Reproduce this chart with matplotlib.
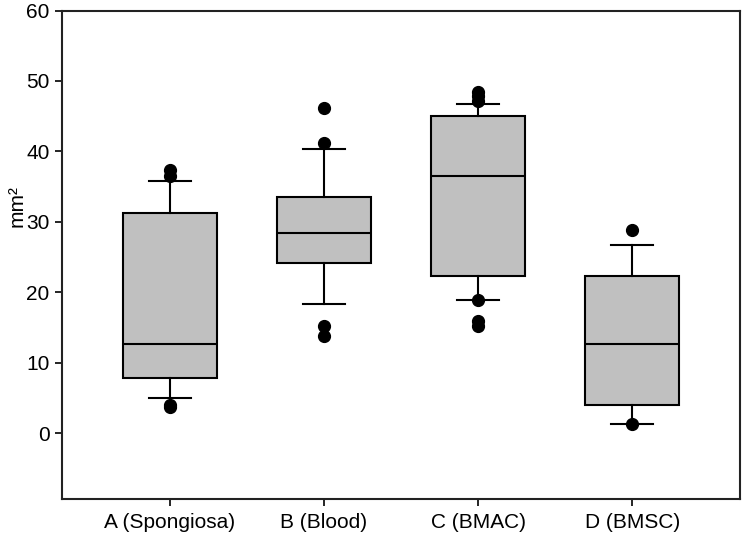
import matplotlib
matplotlib.use("Agg")
import matplotlib.pyplot as plt

plt.rcParams['font.family'] = ['Liberation Sans', 'DejaVu Sans']

categories = ["A (Spongiosa)", "B (Blood)", "C (BMAC)", "D (BMSC)"]
q1 = [7.8, 24.2, 22.4, 4.0]
medians = [12.7, 28.4, 36.5, 12.7]
q3 = [31.3, 33.6, 45.0, 22.4]
whislo = [5.0, 18.4, 18.9, 1.3]
whishi = [35.8, 40.3, 46.7, 26.7]
outliers = [
    [37.4, 36.5, 4.0, 3.7],
    [46.1, 41.2, 15.2, 13.8],
    [48.4, 47.9, 47.1, 19.0, 16.0, 15.2],
    [28.9, 1.4],
]
yticks = [0, 10, 20, 30, 40, 50, 60]

stats = []
for i, c in enumerate(categories):
    stats.append(dict(label=c, q1=q1[i], med=medians[i], q3=q3[i],
                      whislo=whislo[i], whishi=whishi[i], fliers=outliers[i]))

fig = plt.figure(figsize=(7.45, 5.37), dpi=100)
ax = fig.add_axes([62/745, 1-499/537, (740-62)/745, (499-10.5)/537])

ax.bxp(stats, positions=[1, 2, 3, 4], widths=0.61, patch_artist=True,
       boxprops=dict(facecolor='#c0c0c0', edgecolor='black', linewidth=1.5),
       medianprops=dict(color='black', linewidth=1.5),
       whiskerprops=dict(color='black', linewidth=1.5),
       capprops=dict(color='black', linewidth=1.5),
       capwidths=0.27,
       flierprops=dict(marker='o', markerfacecolor='black', markeredgecolor='black',
                       markersize=8.5, linestyle='none'))

ax.set_xlim(0.3, 4.7)
ax.set_ylim(-9.3, 60)
ax.set_yticks(yticks)
ax.set_yticklabels([str(t) for t in yticks])
ax.set_xticks([1, 2, 3, 4])
ax.set_xticklabels(categories)
ax.tick_params(axis='both', direction='out', length=5, width=1.2, labelsize=15, colors='black')
ax.tick_params(axis='x', pad=5)
ax.tick_params(axis='y', pad=4)
for s in ax.spines.values():
    s.set_linewidth(1.5)
    s.set_color('#222222')
ax.set_ylabel("mm²", fontsize=15)
ax.yaxis.set_label_coords(-0.052, 0.6)

fig.savefig("out.png", dpi=100)
